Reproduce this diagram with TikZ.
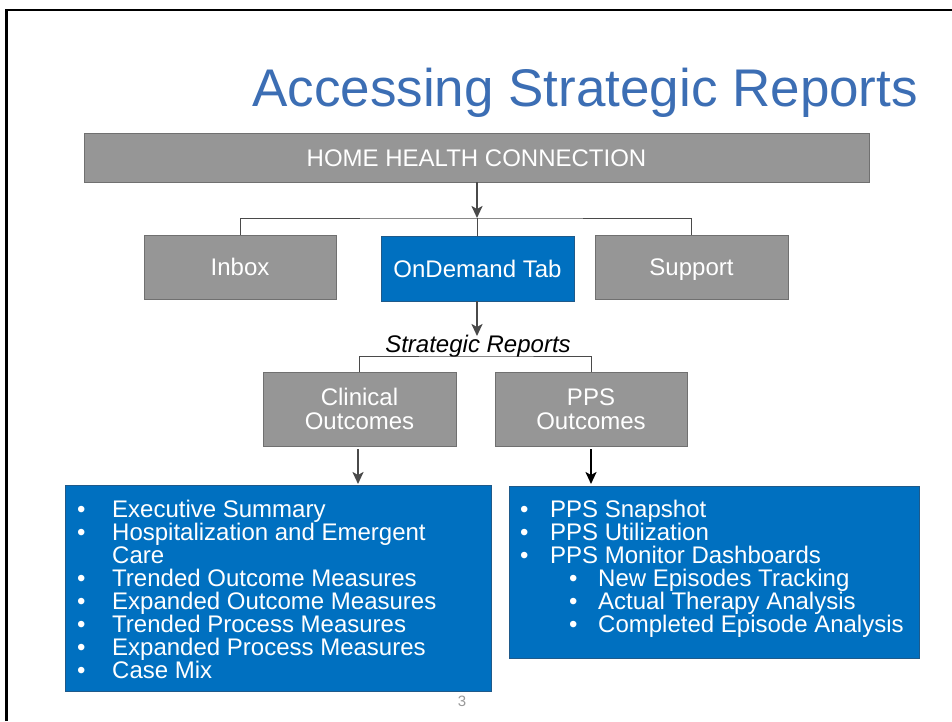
\documentclass[tikz,border=0pt]{standalone}
\usepackage{fontspec}
\setmainfont{Liberation Sans}
\usetikzlibrary{arrows.meta}
\definecolor{boxgray}{HTML}{969696}
\definecolor{boxedge}{HTML}{707070}
\definecolor{ddblue}{HTML}{0070C0}
\definecolor{ddedge}{HTML}{1F5A8A}
\definecolor{titleblue}{HTML}{3C6EB4}
\definecolor{linegray}{HTML}{4A4A4A}
\newcommand{\fs}[1]{\fontsize{#1}{#1}\selectfont}
\tikzset{
  graybox/.style={draw=boxedge, line width=0.8pt, fill=boxgray, text=white, inner sep=0pt, font=\fs{24}, align=center},
  oneline/.style={text height=19.5pt, text depth=2.5pt},
  bluebox/.style={draw=ddedge, line width=0.8pt, fill=ddblue, inner sep=0pt},
  listtext/.style={text=white, inner sep=0pt, anchor=base west, font=\fs{24}},
  conn/.style={draw=linegray, line width=1pt},
  arr/.style={draw=linegray, line width=2.4pt, -{Stealth[length=12pt,width=11pt,inset=3pt]}},
}
\begin{document}
\begin{tikzpicture}[x=1pt,y=-1pt]
\useasboundingbox (0,0) rectangle (952,721);
\fill[white] (0,0) rectangle (952,721);
\draw[line width=2.4pt, black] (6.5,721) -- (6.5,10) -- (952,10);

% title
\node[anchor=base west, inner sep=0pt, text=titleblue, font=\fs{53}] (title) at (252,106) {Accessing Strategic Reports};

% top level
\node[graybox, oneline, minimum width=785pt, minimum height=49pt] (hhc) at (476.5,157.5) {HOME HEALTH CONNECTION};
\node[graybox, oneline, minimum width=192pt, minimum height=64pt] (inbox) at (240,267) {Inbox};
\node[graybox, oneline, fill=ddblue, draw=ddedge, minimum width=193pt, minimum height=65pt] (ond) at (477.5,268.5) {OnDemand Tab};
\node[graybox, oneline, minimum width=193pt, minimum height=64pt] (support) at (691.5,267) {Support};

\coordinate (j1) at (477,218);
\draw[conn] (inbox.north) |- (j1) -| (support.north);
\draw[conn] (j1) -- (j1 |- ond.north);
\draw[arr] (j1 |- hhc.south) -- (j1);

% strategic reports
\node[anchor=base, inner sep=0pt, font=\fs{24}\itshape] (sr) at (478,352) {Strategic Reports};
\coordinate (srtop) at (477,336);
\draw[arr] (srtop |- ond.south) -- (srtop);

\node[graybox, minimum width=193pt, minimum height=74pt] (clin) at (359.5,409) {Clinical\\[0pt]Outcomes};
\node[graybox, minimum width=192pt, minimum height=74pt] (pps) at (591,409) {PPS\\[0pt]Outcomes};
\coordinate (j2) at (477,356);
\draw[conn] (clin.north) |- (j2) -| (pps.north);

% lists
\node[bluebox, minimum width=426pt, minimum height=206pt] (lbox) at (278,588) {};
\node[bluebox, minimum width=410pt, minimum height=172pt] (rbox) at (714,572) {};

\coordinate (la) at (358,484);
\coordinate (ra) at (591,484);
\draw[arr, shorten <=3pt] (la |- clin.south) -- (la);
\draw[arr, draw=black, line width=2.6pt, shorten <=3pt] (ra |- pps.south) -- (ra);

% left list
\foreach \t [count=\i from 0] in {Executive Summary, Hospitalization and Emergent, , Trended Outcome Measures, Expanded Outcome Measures, Trended Process Measures, Expanded Process Measures, Case Mix}{
  \node[listtext] (lt\i) at (112,517+23.1*\i) {\t};
}
\node[listtext] (ltc) at (112,517+23.1*2) {Care};
\foreach \i in {0,1,3,4,5,6,7}{
  \node[listtext] (lb\i) at (77,517+23.1*\i) {•};
}

% right list
\foreach \t [count=\i from 0] in {PPS Snapshot, PPS Utilization, PPS Monitor Dashboards}{
  \node[listtext] (rt\i) at (550,517+23.1*\i) {\t};
  \node[listtext] (rb\i) at (520,517+23.1*\i) {•};
}
\foreach \t [count=\i from 3] in {New Episodes Tracking, Actual Therapy Analysis, Completed Episode Analysis}{
  \node[listtext] (rt\i) at (598,517+23.1*\i) {\t};
  \node[listtext] (rb\i) at (569,517+23.1*\i) {•};
}

% page number
\node[anchor=base, inner sep=0pt, text=gray!80, font=\fs{15}] (pg) at (462,706) {3};
\end{tikzpicture}
\end{document}
